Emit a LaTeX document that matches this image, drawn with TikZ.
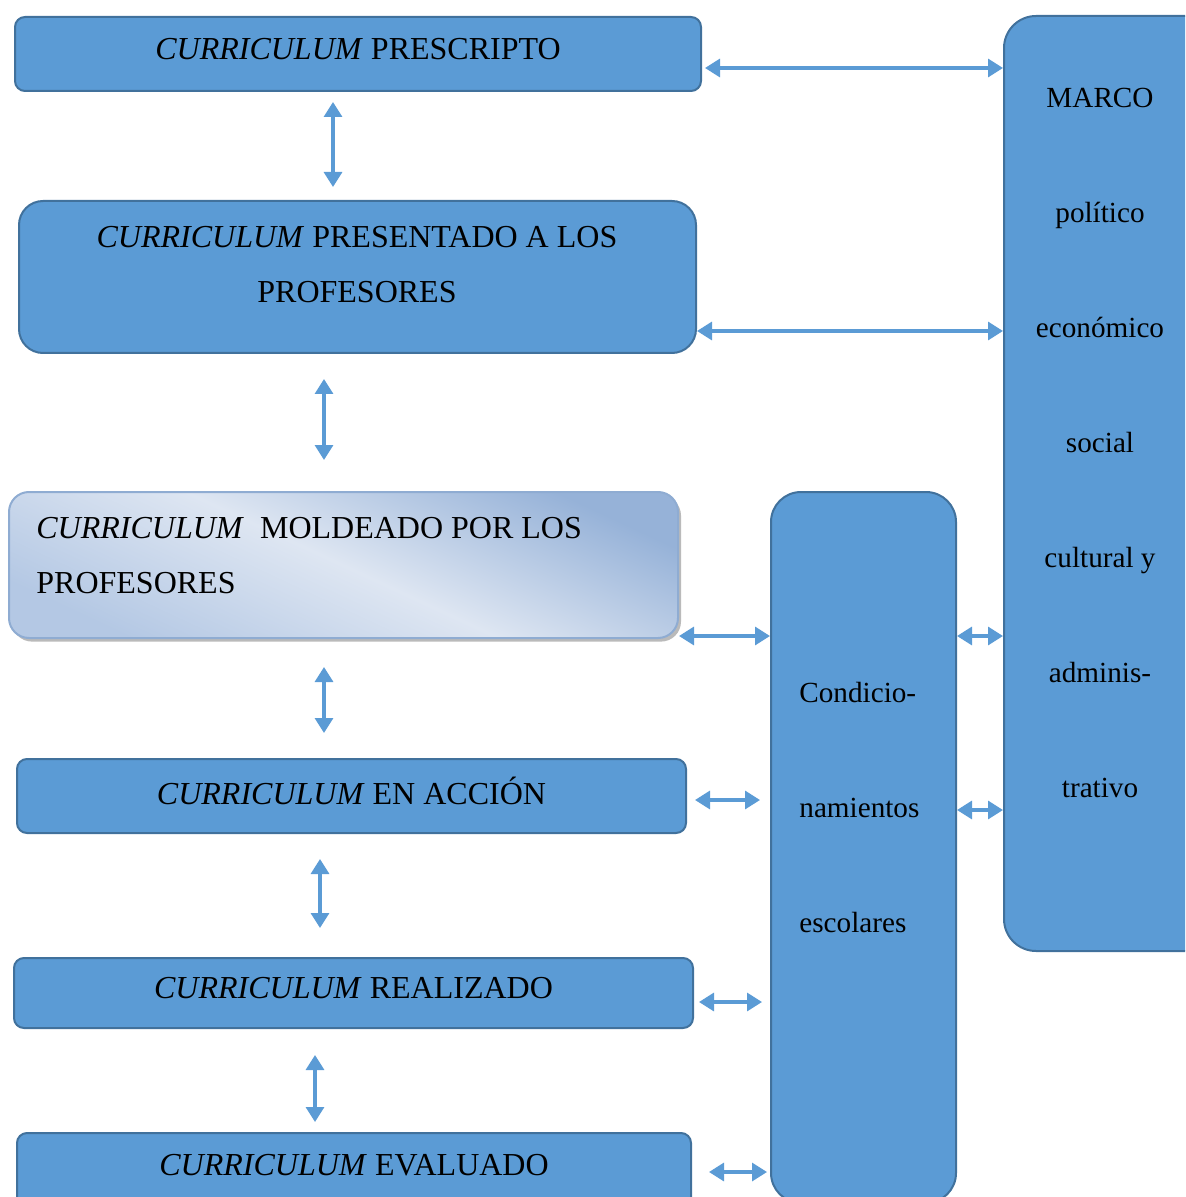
\documentclass[tikz,border=0pt]{standalone}
\usepackage{fontspec}
\setmainfont{Liberation Serif}
\usetikzlibrary{arrows.meta,shadows}
\definecolor{boxblue}{RGB}{91,155,213}
\definecolor{boxline}{RGB}{65,113,156}
\definecolor{paleline}{RGB}{143,172,210}
\definecolor{paledark}{RGB}{150,178,216}
\definecolor{palemid}{RGB}{180,200,228}
\definecolor{palelight}{RGB}{222,230,242}

\begin{document}
\begin{tikzpicture}[x=.5pt, y=-.5pt, line join=round]
  \tikzset{cbox/.style={draw=boxline, fill=boxblue, line width=1pt, anchor=north west, inner sep=0pt},
    stagebox/.style={cbox, rounded corners=5pt, font=\fontsize{16}{27.5}\selectfont, text depth=.5em},
    stagetxt/.style={inner sep=0pt, font=\fontsize{16}{27.5}\selectfont},
    tallbox/.style={cbox, rounded corners=16pt},
    talltxt/.style={inner sep=0pt, font=\fontsize{14.6}{57.5}\selectfont},
    link/.style={draw=boxblue, line width=1.6pt, {Triangle[width=9pt,length=7.5pt]}-{Triangle[width=9pt,length=7.5pt]}}}

  \useasboundingbox (0,0) rectangle (1185,1197);
  \clip (0,0) rectangle (1185,1197);

  % left column
  \node[stagebox, minimum width=343pt, minimum height=37pt] (pres) at (14,16) {\textit{CURRICULUM} PRESCRIPTO};
  \node[cbox, rounded corners=12pt, minimum width=338.5pt, minimum height=76pt] (prof) at (18,200) {};
  \node[stagetxt, align=center] (proftxt) at (357,264.5) {\textit{CURRICULUM} PRESENTADO A LOS\\PROFESORES};
  \node[cbox, draw=paleline, rounded corners=10pt, top color=paledark, bottom color=palemid, middle color=palelight, shading angle=-25,
    drop shadow={shadow xshift=1.5pt, shadow yshift=-1.8pt, fill=black!45, opacity=.6},
    minimum width=334.5pt, minimum height=73pt] (mold) at (8,491) {};
  \node[stagetxt, align=left, anchor=west] (moldtxt) at (36,555.5) {\textit{CURRICULUM}~ MOLDEADO POR LOS\\PROFESORES};
  \node[stagebox, minimum width=334.5pt, minimum height=37pt] (acc) at (16,758) {\textit{CURRICULUM} EN ACCIÓN};
  \node[stagebox, minimum width=339.5pt, minimum height=35pt] (real) at (13,957) {\textit{CURRICULUM} REALIZADO};
  \node[stagebox, minimum width=337pt, minimum height=37pt] (eval) at (16,1132) {\textit{CURRICULUM} EVALUADO};

  % right columns
  \node[tallbox, rounded corners=15pt, minimum width=92.5pt, minimum height=355.5pt] (cond) at (770,491) {};
  \node[talltxt, align=left, anchor=west] (condtxt) at (799,808) {Condicio-\\namientos\\escolares};
  \node[tallbox, minimum width=120pt, minimum height=467.5pt] (marco) at (1003,15) {};
  \node[talltxt, align=center] (marcotxt) at (1100,443) {MARCO\\político\\económico\\social\\cultural y\\adminis-\\trativo};

  % arrows
  \foreach \a/\b/\x/\s/\e in {pres/prof/333/5pt/6.5pt, prof/mold/324/12.5pt/15.5pt, mold/acc/324/14pt/12.5pt,
      acc/real/320/12.5pt/14.5pt, real/eval/315/13pt/5pt}
    \draw[link, shorten <=\s, shorten >=\e] (\a.south -| \x,0) -- (\b.north -| \x,0);
  \foreach \a/\b/\y/\s/\e in {pres/marco/68/1.5pt/0pt, prof/marco/331/0pt/0pt, mold/cond/636/0pt/0pt,
      acc/cond/800/4pt/5pt, real/cond/1002/2.5pt/4pt, eval/cond/1172/8.5pt/1.5pt,
      cond/marco/636/0pt/0pt, cond/marco/810/0pt/0pt}
    \draw[link, shorten <=\s, shorten >=\e] (\a.east |- 0,\y) -- (\b.west |- 0,\y);
\end{tikzpicture}
\end{document}
